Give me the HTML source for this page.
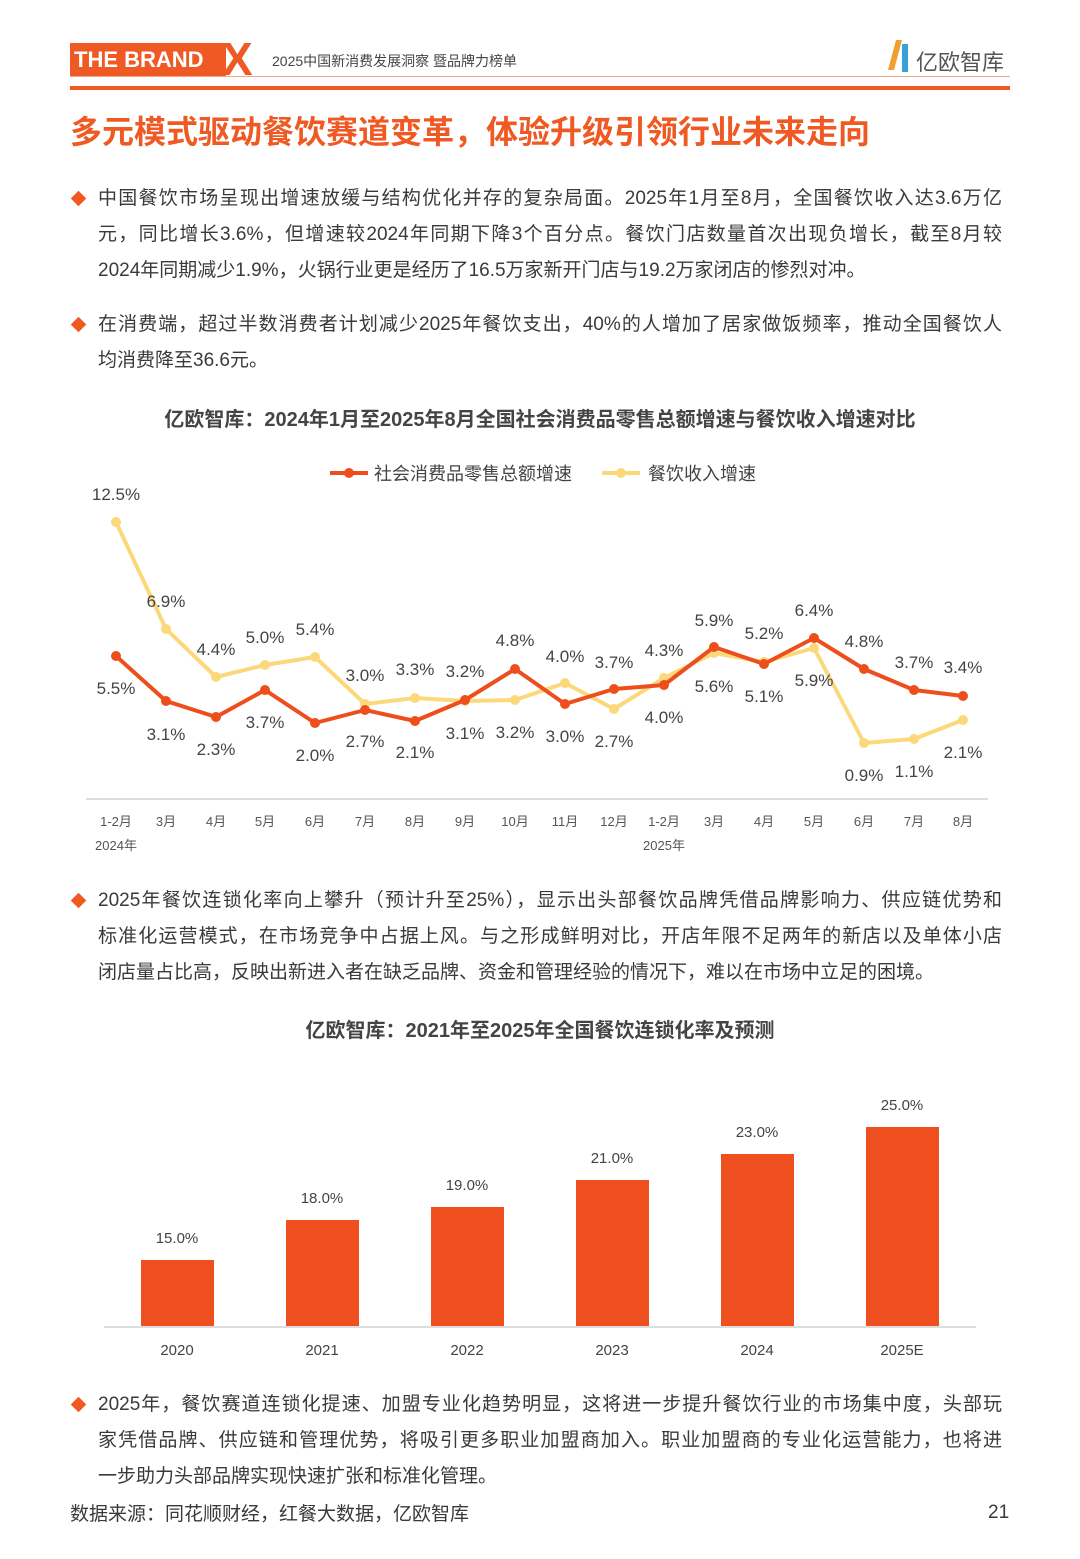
<!DOCTYPE html>
<html><head><meta charset="utf-8"><style>
body{margin:0;background:#fff;}
#p{position:relative;width:1080px;height:1559px;overflow:hidden;font-family:"Liberation Sans","Noto Sans CJK SC",sans-serif;color:#3a3a3a;}
.a{position:absolute;white-space:nowrap;}
.ln{position:absolute;left:98px;font-size:19px;line-height:24px;color:#3a3a3a;white-space:nowrap;}
.j{width:904px;text-align:justify;text-align-last:justify;}
.d{position:absolute;left:73px;width:11px;height:11px;background:#f05a22;transform:rotate(45deg);}
</style></head><body><div id="p">
<div class="a" style="left:70px;top:43px;width:156px;height:33px;background:#ef5a24;"></div>
<div class="a" style="left:74px;top:45px;color:#fff;font-weight:bold;font-size:22px;line-height:30px;">THE BRAND</div>
<div class="a" style="left:222px;top:38px;color:#ef5a24;font-weight:bold;font-size:46px;line-height:42px;">X</div>
<div class="a" style="left:272px;top:51px;font-size:14px;color:#444;">2025中国新消费发展洞察 暨品牌力榜单</div>
<div class="a" style="left:70px;top:76px;width:940px;height:1px;background:#f4a584;"></div>
<div class="a" style="left:892px;top:40px;width:6px;height:30px;background:#f0a030;transform:skewX(-15deg);"></div>
<div class="a" style="left:902px;top:44px;width:6px;height:28px;background:#3aa0d8;"></div>
<div class="a" style="left:916px;top:45px;font-size:22px;color:#555;">亿欧智库</div>
<div class="a" style="left:70px;top:86px;width:940px;height:4px;background:#ef5a24;"></div>
<div class="a" style="left:70px;top:107px;font-size:32px;font-weight:bold;color:#ef5a24;">多元模式驱动餐饮赛道变革，体验升级引领行业未来走向</div>

<div class="d" style="top:193px"></div>
<div class="ln j" style="top:187px">中国餐饮市场呈现出增速放缓与结构优化并存的复杂局面。2025年1月至8月，全国餐饮收入达3.6万亿</div>
<div class="ln j" style="top:223px">元，同比增长3.6%，但增速较2024年同期下降3个百分点。餐饮门店数量首次出现负增长，截至8月较</div>
<div class="ln" style="top:259px">2024年同期减少1.9%，火锅行业更是经历了16.5万家新开门店与19.2万家闭店的惨烈对冲。</div>
<div class="d" style="top:319px"></div>
<div class="ln j" style="top:313px">在消费端，超过半数消费者计划减少2025年餐饮支出，40%的人增加了居家做饭频率，推动全国餐饮人</div>
<div class="ln" style="top:349px">均消费降至36.6元。</div>

<div class="a" style="left:0;width:1080px;text-align:center;top:403px;font-size:20px;font-weight:bold;color:#444;">亿欧智库：2024年1月至2025年8月全国社会消费品零售总额增速与餐饮收入增速对比</div>

<svg class="a" style="left:0;top:0" width="1080" height="870" font-family="Liberation Sans, Noto Sans CJK SC, sans-serif">
<line x1="330" y1="473" x2="368" y2="473" stroke="#ee4e1c" stroke-width="4"/><circle cx="349" cy="473" r="5" fill="#ee4e1c"/>
<text x="374" y="480" font-size="18" fill="#444">社会消费品零售总额增速</text>
<line x1="602" y1="473" x2="640" y2="473" stroke="#fbd97a" stroke-width="4"/><circle cx="621" cy="473" r="5" fill="#fbd97a"/>
<text x="648" y="480" font-size="18" fill="#444">餐饮收入增速</text>
<line x1="86" y1="799" x2="988" y2="799" stroke="#ddd" stroke-width="2"/>
<polyline fill="none" stroke="#fbd97a" stroke-width="4" stroke-linejoin="round" points="116,522 166,629 216,677 265,665 315,657 365,704 415,698 465,701 515,700 565,683 614,709 664,678 714,653 764,662 814,648 864,743 914,739 963,720"/>
<g fill="#fbd97a"><circle cx="116" cy="522" r="5"/><circle cx="166" cy="629" r="5"/><circle cx="216" cy="677" r="5"/><circle cx="265" cy="665" r="5"/><circle cx="315" cy="657" r="5"/><circle cx="365" cy="704" r="5"/><circle cx="415" cy="698" r="5"/><circle cx="465" cy="701" r="5"/><circle cx="515" cy="700" r="5"/><circle cx="565" cy="683" r="5"/><circle cx="614" cy="709" r="5"/><circle cx="664" cy="678" r="5"/><circle cx="714" cy="653" r="5"/><circle cx="764" cy="662" r="5"/><circle cx="814" cy="648" r="5"/><circle cx="864" cy="743" r="5"/><circle cx="914" cy="739" r="5"/><circle cx="963" cy="720" r="5"/></g>
<polyline fill="none" stroke="#ee4e1c" stroke-width="4" stroke-linejoin="round" points="116,656 166,701 216,717 265,690 315,723 365,710 415,721 465,700 515,669 565,704 614,689 664,685 714,647 764,664 814,638 864,669 914,690 963,696"/>
<g fill="#ee4e1c"><circle cx="116" cy="656" r="5"/><circle cx="166" cy="701" r="5"/><circle cx="216" cy="717" r="5"/><circle cx="265" cy="690" r="5"/><circle cx="315" cy="723" r="5"/><circle cx="365" cy="710" r="5"/><circle cx="415" cy="721" r="5"/><circle cx="465" cy="700" r="5"/><circle cx="515" cy="669" r="5"/><circle cx="565" cy="704" r="5"/><circle cx="614" cy="689" r="5"/><circle cx="664" cy="685" r="5"/><circle cx="714" cy="647" r="5"/><circle cx="764" cy="664" r="5"/><circle cx="814" cy="638" r="5"/><circle cx="864" cy="669" r="5"/><circle cx="914" cy="690" r="5"/><circle cx="963" cy="696" r="5"/></g>
<g font-size="17" fill="#444" text-anchor="middle">
<text x="116" y="500">12.5%</text><text x="166" y="607">6.9%</text><text x="216" y="655">4.4%</text><text x="265" y="643">5.0%</text><text x="315" y="635">5.4%</text><text x="365" y="681">3.0%</text><text x="415" y="675">3.3%</text><text x="465" y="677">3.2%</text><text x="515" y="646">4.8%</text><text x="565" y="662">4.0%</text><text x="614" y="668">3.7%</text><text x="664" y="656">4.3%</text><text x="714" y="626">5.9%</text><text x="764" y="639">5.2%</text><text x="814" y="616">6.4%</text><text x="864" y="647">4.8%</text><text x="914" y="668">3.7%</text><text x="963" y="673">3.4%</text>
<text x="116" y="694">5.5%</text><text x="166" y="740">3.1%</text><text x="216" y="755">2.3%</text><text x="265" y="728">3.7%</text><text x="315" y="761">2.0%</text><text x="365" y="747">2.7%</text><text x="415" y="758">2.1%</text><text x="465" y="739">3.1%</text><text x="515" y="738">3.2%</text><text x="565" y="742">3.0%</text><text x="614" y="747">2.7%</text><text x="664" y="723">4.0%</text><text x="714" y="692">5.6%</text><text x="764" y="702">5.1%</text><text x="814" y="686">5.9%</text><text x="864" y="781">0.9%</text><text x="914" y="777">1.1%</text><text x="963" y="758">2.1%</text>
</g>
<g font-size="13" fill="#555" text-anchor="middle">
<text x="116" y="826">1-2月</text><text x="166" y="826">3月</text><text x="216" y="826">4月</text><text x="265" y="826">5月</text><text x="315" y="826">6月</text><text x="365" y="826">7月</text><text x="415" y="826">8月</text><text x="465" y="826">9月</text><text x="515" y="826">10月</text><text x="565" y="826">11月</text><text x="614" y="826">12月</text><text x="664" y="826">1-2月</text><text x="714" y="826">3月</text><text x="764" y="826">4月</text><text x="814" y="826">5月</text><text x="864" y="826">6月</text><text x="914" y="826">7月</text><text x="963" y="826">8月</text>
<text x="116" y="850">2024年</text><text x="664" y="850">2025年</text>
</g>
</svg>

<div class="d" style="top:895px"></div>
<div class="ln j" style="top:889px">2025年餐饮连锁化率向上攀升（预计升至25%），显示出头部餐饮品牌凭借品牌影响力、供应链优势和</div>
<div class="ln j" style="top:925px">标准化运营模式，在市场竞争中占据上风。与之形成鲜明对比，开店年限不足两年的新店以及单体小店</div>
<div class="ln" style="top:961px">闭店量占比高，反映出新进入者在缺乏品牌、资金和管理经验的情况下，难以在市场中立足的困境。</div>

<div class="a" style="left:0;width:1080px;text-align:center;top:1014px;font-size:20px;font-weight:bold;color:#444;">亿欧智库：2021年至2025年全国餐饮连锁化率及预测</div>

<svg class="a" style="left:0;top:1080px" width="1080" height="290" font-family="Liberation Sans, Noto Sans CJK SC, sans-serif">
<line x1="104" y1="247" x2="976" y2="247" stroke="#ddd" stroke-width="2"/>
<g fill="#f0501f">
<rect x="141" y="180" width="73" height="66"/><rect x="286" y="140" width="73" height="106"/><rect x="431" y="127" width="73" height="119"/><rect x="576" y="100" width="73" height="146"/><rect x="721" y="74" width="73" height="172"/><rect x="866" y="47" width="73" height="199"/>
</g>
<g font-size="15" fill="#444" text-anchor="middle">
<text x="177" y="163">15.0%</text><text x="322" y="123">18.0%</text><text x="467" y="110">19.0%</text><text x="612" y="83">21.0%</text><text x="757" y="57">23.0%</text><text x="902" y="30">25.0%</text>
<text x="177" y="275">2020</text><text x="322" y="275">2021</text><text x="467" y="275">2022</text><text x="612" y="275">2023</text><text x="757" y="275">2024</text><text x="902" y="275">2025E</text>
</g>
</svg>

<div class="d" style="top:1399px"></div>
<div class="ln j" style="top:1393px">2025年，餐饮赛道连锁化提速、加盟专业化趋势明显，这将进一步提升餐饮行业的市场集中度，头部玩</div>
<div class="ln j" style="top:1429px">家凭借品牌、供应链和管理优势，将吸引更多职业加盟商加入。职业加盟商的专业化运营能力，也将进</div>
<div class="ln" style="top:1465px">一步助力头部品牌实现快速扩张和标准化管理。</div>
<div class="a" style="left:70px;top:1499px;font-size:19px;color:#3a3a3a;">数据来源：同花顺财经，红餐大数据，亿欧智库</div>
<div class="a" style="left:988px;top:1502px;font-size:19px;color:#3a3a3a;">21</div>
</div></body></html>
